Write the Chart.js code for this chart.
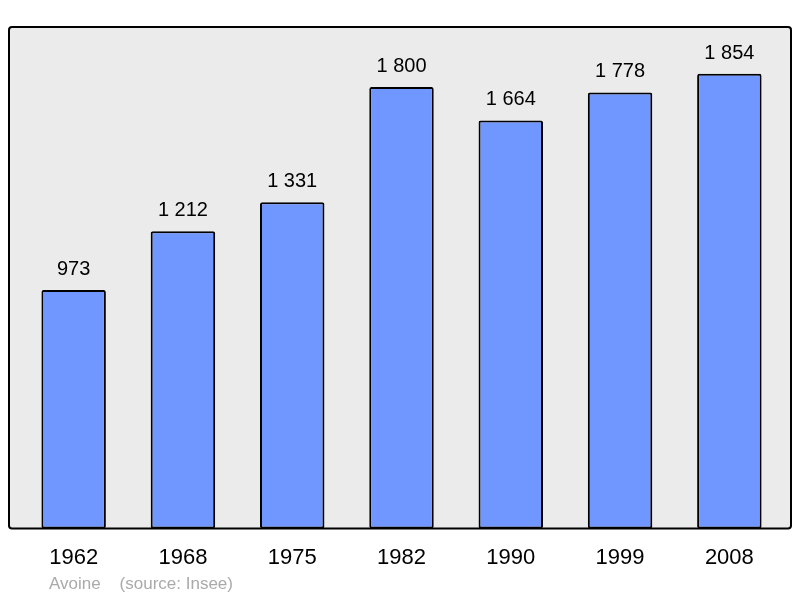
<!DOCTYPE html>
<html>
<head>
<meta charset="utf-8">
<script src="https://cdn.jsdelivr.net/npm/chart.js@4/dist/chart.umd.min.js"></script>
<style>
  html, body { margin: 0; padding: 0; background: #fff; }
  #wrap { width: 800px; height: 598px; }
</style>
</head>
<body>
<div id="wrap"><canvas id="pop-chart" width="800" height="598"></canvas></div>
<script>
"use strict";
const years = ['1962', '1968', '1975', '1982', '1990', '1999', '2008'];
const population = [973, 1212, 1331, 1800, 1664, 1778, 1854];
const footer = 'Avoine    (source: Insee)';

// french style thousands: "1 854"
function fmt(v) {
  return String(v).replace(/\B(?=(\d{3})+(?!\d))/g, ' ');
}

// grey frame behind the bars
const framePlugin = {
  id: 'frame',
  beforeDraw: function(chart) {
    const ctx = chart.ctx;
    const a = chart.chartArea;
    const x0 = a.left - 10, x1 = a.right + 7, y0 = a.top, y1 = a.bottom;
    ctx.save();
    ctx.beginPath();
    ctx.roundRect(x0, y0, x1 - x0, y1 - y0, 3);
    ctx.fillStyle = '#ebebeb';
    ctx.fill();
    ctx.lineWidth = 2;
    ctx.strokeStyle = '#000';
    ctx.stroke();
    ctx.restore();
  },
  afterDatasetsDraw: function(chart) {
    const ctx = chart.ctx;
    const meta = chart.getDatasetMeta(0);
    ctx.save();
    ctx.font = '20px "Liberation Sans", Arial, sans-serif';
    ctx.fillStyle = '#000';
    ctx.textAlign = 'center';
    ctx.textBaseline = 'alphabetic';
    meta.data.forEach(function(bar, i) {
      ctx.fillText(fmt(population[i]), bar.x, bar.y - 15);
    });
    ctx.font = '17px "Liberation Sans", Arial, sans-serif';
    ctx.fillStyle = '#aaaaaa';
    ctx.textAlign = 'left';
    ctx.textBaseline = 'middle';
    ctx.fillText(footer, 49, 584);
    ctx.restore();
  }
};

new Chart(document.getElementById('pop-chart'), {
  type: 'bar',
  data: {
    labels: years,
    datasets: [{
      data: population,
      backgroundColor: '#7096ff',
      borderColor: '#000',
      borderWidth: 2,
      borderRadius: 2,
      borderSkipped: false,
      barPercentage: 0.59,
      categoryPercentage: 1
    }]
  },
  options: {
    responsive: false,
    animation: false,
    events: [],
    layout: { padding: { left: 19, right: 16, top: 27, bottom: 19 } },
    scales: {
      x: {
        grid: { display: false },
        border: { display: false },
        ticks: {
          color: '#000',
          padding: 8,
          maxRotation: 0,
          font: { family: '"Liberation Sans", Arial, sans-serif', size: 22 }
        }
      },
      y: {
        display: false,
        min: 0,
        max: 2045
      }
    },
    plugins: {
      legend: { display: false },
      tooltip: { enabled: false }
    }
  },
  plugins: [framePlugin]
});
</script>
</body>
</html>
